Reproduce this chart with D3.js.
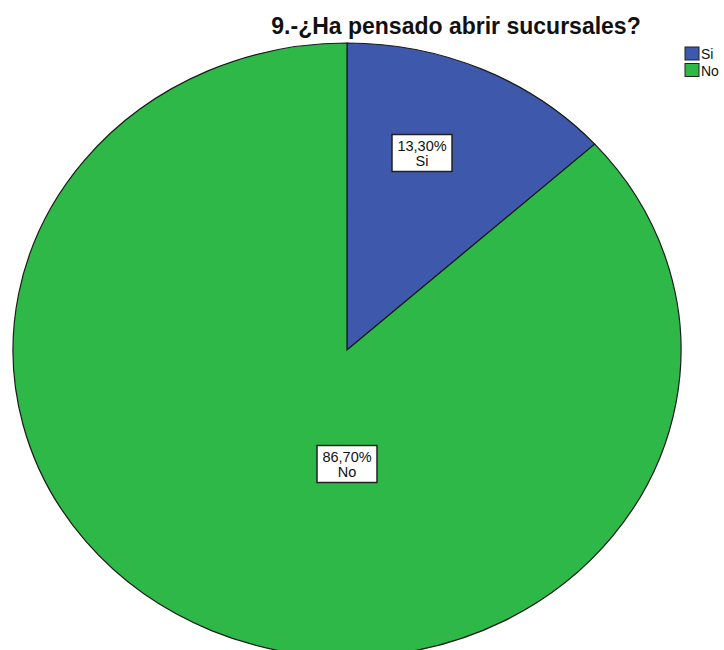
<!DOCTYPE html>
<html>
<head>
<meta charset="utf-8">
<script src="https://cdn.jsdelivr.net/npm/d3@7"></script>
<style>
  html, body { margin: 0; padding: 0; background: #fff; }
  svg { display: block; font-family: "Liberation Sans", Arial, sans-serif; }
</style>
</head>
<body>
<svg id="chart" width="724" height="650"></svg>
<script>
// Survey answers and their shares (percent)
const categories = ["Si", "No"];
const values = [13.3, 86.7];
const valueLabels = ["13,30%", "86,70%"];
const colors = ["#3E58AC", "#2EB848"];
const title = "9.-¿Ha pensado abrir sucursales?";

const svg = d3.select("#chart");
const cx = 347, cy = 350, rx = 334, ry = 307;

// Title
svg.append("text")
  .attr("x", 456).attr("y", 34)
  .attr("text-anchor", "middle")
  .attr("font-size", 23).attr("font-weight", "bold")
  .attr("fill", "#111")
  .text(title);

// Pie, drawn as a circle and stretched into an ellipse
const pie = d3.pie().sort(null).value(d => d)(values);
const arc = d3.arc().innerRadius(0).outerRadius(rx);

const g = svg.append("g")
  .attr("transform", `translate(${cx},${cy}) scale(1,${ry / rx})`);

g.selectAll("path")
  .data(pie)
  .join("path")
  .attr("d", arc)
  .attr("fill", (d, i) => colors[i])
  .attr("stroke", "#1a1a1a")
  .attr("stroke-width", 1.2)
  .attr("vector-effect", "non-scaling-stroke");

// Slice labels: value and category in a boxed note
const labelOffsets = [[75, -197], [0, 114]];
const labels = svg.selectAll("g.lbl")
  .data(pie)
  .join("g")
  .attr("class", "lbl")
  .attr("transform", (d, i) => `translate(${cx + labelOffsets[i][0]},${cy + labelOffsets[i][1]})`);

labels.append("rect")
  .attr("x", -30).attr("y", -18.5)
  .attr("width", 60).attr("height", 37)
  .attr("fill", "#fff")
  .attr("stroke", "#222")
  .attr("stroke-width", 1.5);

labels.append("text")
  .attr("text-anchor", "middle")
  .attr("y", -2)
  .attr("font-size", 14.5)
  .attr("fill", "#111")
  .text((d, i) => valueLabels[i]);

labels.append("text")
  .attr("text-anchor", "middle")
  .attr("y", 13)
  .attr("font-size", 14.5)
  .attr("fill", "#111")
  .text((d, i) => categories[i]);

// Legend
const legend = svg.selectAll("g.leg")
  .data(categories)
  .join("g")
  .attr("class", "leg")
  .attr("transform", (d, i) => `translate(685,${47 + i * 16.5})`);

legend.append("rect")
  .attr("width", 14).attr("height", 13)
  .attr("fill", (d, i) => colors[i])
  .attr("stroke", "#222")
  .attr("stroke-width", 1);

legend.append("text")
  .attr("x", 16).attr("y", 12)
  .attr("font-size", 14)
  .attr("fill", "#111")
  .text(d => d);
</script>
</body>
</html>
